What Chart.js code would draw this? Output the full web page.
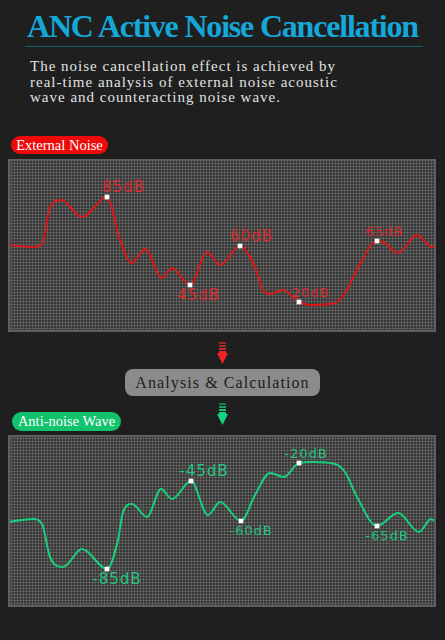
<!DOCTYPE html>
<html lang="en">
<head>
  <meta charset="UTF-8">
  <title>ANC Active Noise Cancellation</title>
  <script src="https://cdn.jsdelivr.net/npm/chart.js"></script>
  <style>
    body {
      margin: 0;
      width: 445px;
      height: 640px;
      background: #1f1f1f;
      position: relative;
      overflow: hidden;
      font-family: "Liberation Serif", "Times New Roman", serif;
    }
    #title {
      position: absolute;
      left: 27px;
      top: 10px;
      font-size: 32px;
      line-height: 32px;
      font-weight: bold;
      letter-spacing: -1.2px;
      color: #14a7d7;
      white-space: nowrap;
    }
    #rule {
      position: absolute;
      left: 25px;
      top: 46px;
      width: 398px;
      height: 1px;
      background: #1c5a6f;
    }
    #intro {
      position: absolute;
      left: 30px;
      top: 59px;
      font-size: 15px;
      line-height: 15.5px;
      letter-spacing: 1px;
      color: #e2e2e2;
      white-space: nowrap;
    }
    .pill {
      position: absolute;
      display: flex;
      align-items: center;
      justify-content: center;
      color: #fff;
      font-size: 14.5px;
      border-radius: 10px;
      white-space: nowrap;
    }
    .panel {
      position: absolute;
      left: 8px;
      width: 428px;
      background-color: #383838;
      background-image:
        repeating-linear-gradient(0deg, rgba(255,255,255,0.14) 0 1px, transparent 1px 3px),
        repeating-linear-gradient(90deg, rgba(255,255,255,0.14) 0 1px, transparent 1px 3px);
    }
    .frame {
      position: absolute;
      left: 0; top: 0; right: 0; bottom: 0;
      border: 2px solid #5f5f5f;
      pointer-events: none;
    }
    #btn {
      position: absolute;
      left: 125px;
      top: 369px;
      width: 195px;
      height: 27px;
      border-radius: 8px;
      background: #8b8b8b;
      color: #1c1c1c;
      font-size: 16px;
      letter-spacing: 1.1px;
      display: flex;
      align-items: center;
      justify-content: center;
      white-space: nowrap;
    }
    svg.arrow {
      position: absolute;
      left: 216px;
    }
  </style>
</head>
<body>

<div id="title">ANC Active Noise Cancellation</div>
<div id="rule"></div>
<div id="intro">The noise cancellation effect is achieved by<br>real-time analysis of external noise acoustic<br>wave and counteracting noise wave.</div>

<div class="pill" style="left:11px; top:136px; width:97px; height:18px; background:#ee0a0a;">External Noise</div>

<div class="panel" style="top:159px; height:173px;">
  <canvas id="noiseChart"></canvas>
  <div class="frame"></div>
</div>

<svg class="arrow" style="top:342px" width="13" height="23">
  <rect x="3" y="0" width="7" height="2" fill="#8a2a2a"/>
  <rect x="3" y="3" width="7" height="2" fill="#b02a2a"/>
  <rect x="3" y="6" width="7" height="2" fill="#d02828"/>
  <rect x="3" y="9" width="7" height="3" fill="#e82626"/>
  <polygon points="1,11 12,11 6.5,22" fill="#f02424"/>
</svg>

<div id="btn">Analysis &amp; Calculation</div>

<svg class="arrow" style="top:403px" width="13" height="23">
  <rect x="3" y="0" width="7" height="2" fill="#16804f"/>
  <rect x="3" y="3" width="7" height="2" fill="#16a262"/>
  <rect x="3" y="6" width="7" height="2" fill="#14be72"/>
  <rect x="3" y="9" width="7" height="3" fill="#14cf7a"/>
  <polygon points="1,11 12,11 6.5,22" fill="#12d67d"/>
</svg>

<div class="pill" style="left:12px; top:412px; width:109px; height:19px; background:#12c26c;">Anti-noise Wave</div>

<div class="panel" style="top:435px; height:172px;">
  <canvas id="antiChart"></canvas>
  <div class="frame"></div>
</div>

<script>
  // External noise wave: time position and amplitude
  const noiseTime = [0, 25, 34, 42, 53, 74, 99, 112, 124, 137, 154, 164, 182, 199, 212, 232, 247, 255, 262, 275,
                     291, 302, 327, 337, 349, 369, 377, 390, 409, 424, 428];
  const noiseAmp = [0.5, -1.5, 1.5, 38, 45.5, 28.5, 48.5, 5.5, -17.5, -3.5, -32.5, -22.5, -39.5, -6.5, -19.5, -0.5,
                    -21.5, -44.5, -48.5, -44.5, -56.5, -59.5, -57.5, -47.5, -24.5, 4.5, 2.5, -7.5, 10.5, -1.5, 0.5];
  const noiseMarkIndex = [6, 12, 15, 20, 25];
  const noiseMarkText = ['85dB', '45dB', '60dB', '20dB', '65dB'];

  // Anti-noise wave
  const antiTime = [0, 25, 34, 42, 55, 74, 99, 110, 115, 124, 139, 153, 164, 183, 200, 212, 233, 247, 262, 276,
                    291, 305, 327, 337, 349, 369, 390, 411, 423, 428];
  const antiAmp = [-1, 2, -3, -36, -46, -28, -48, -19, 9, 17, 4, 32, 22, 40, 6, 19, 0, 26, 48, 44,
                   58, 59, 57, 49, 24, -5, 8, -11, 2, -1];
  const antiMarkIndex = [6, 13, 16, 20, 25];
  const antiMarkText = ['-85dB', '-45dB', '-60dB', '-20dB', '-65dB'];

  // label placement (style only)
  const noiseMarkSide = ['up', 'down', 'up', 'up', 'up'];
  const noiseMarkSize = [15, 15, 15, 13, 13];
  const noiseMarkShift = [17, 9, 12, 12, 8];
  const antiMarkSide = ['down', 'up', 'down', 'up', 'down'];
  const antiMarkSize = [15, 15, 13, 13, 13];
  const antiMarkShift = [10, 13, 10, 7, 10];

  // draws the dB labels next to the white markers
  const markLabels = {
    id: 'markLabels',
    afterDatasetsDraw(chart, args, opts) {
      const ctx = chart.ctx;
      const meta = chart.getDatasetMeta(0);
      ctx.save();
      ctx.fillStyle = opts.color;
      ctx.textAlign = 'center';
      ctx.letterSpacing = '1px';
      opts.index.forEach((idx, i) => {
        const pt = meta.data[idx];
        ctx.font = opts.size[i] + 'px "DejaVu Sans", sans-serif';
        if (opts.side[i] === 'up') {
          ctx.textBaseline = 'alphabetic';
          ctx.fillText(opts.text[i], pt.x + opts.shift[i], pt.y - 5);
        } else {
          ctx.textBaseline = 'top';
          ctx.fillText(opts.text[i], pt.x + opts.shift[i], pt.y + 4);
        }
      });
      ctx.restore();
    }
  };

  function makeWave(canvasId, times, amps, mark, lineColor, textColor, range) {
    const radii = amps.map((v, i) => mark.index.includes(i) ? 3.3 : 0);
    new Chart(document.getElementById(canvasId), {
      type: 'line',
      data: {
        datasets: [{
          data: times.map((t, i) => ({ x: t, y: amps[i] })),
          borderColor: lineColor,
          borderWidth: 2,
          cubicInterpolationMode: 'monotone',
          pointRadius: radii,
          pointStyle: 'rect',
          pointBackgroundColor: '#ffffff',
          pointBorderWidth: 0,
          clip: false
        }]
      },
      options: {
        responsive: true,
        maintainAspectRatio: false,
        animation: false,
        layout: { padding: 0 },
        events: [],
        scales: {
          x: { type: 'linear', display: false, min: 0, max: 428 },
          y: { display: false, min: -range, max: range }
        },
        plugins: {
          legend: { display: false },
          tooltip: { enabled: false },
          markLabels: Object.assign({ color: textColor }, mark)
        }
      },
      plugins: [markLabels]
    });
  }

  makeWave('noiseChart', noiseTime, noiseAmp,
    { index: noiseMarkIndex, text: noiseMarkText, side: noiseMarkSide, size: noiseMarkSize, shift: noiseMarkShift },
    '#d81818', '#e4282c', 86.5);
  makeWave('antiChart', antiTime, antiAmp,
    { index: antiMarkIndex, text: antiMarkText, side: antiMarkSide, size: antiMarkSize, shift: antiMarkShift },
    '#17d07e', '#22c97d', 86);
</script>

</body>
</html>
